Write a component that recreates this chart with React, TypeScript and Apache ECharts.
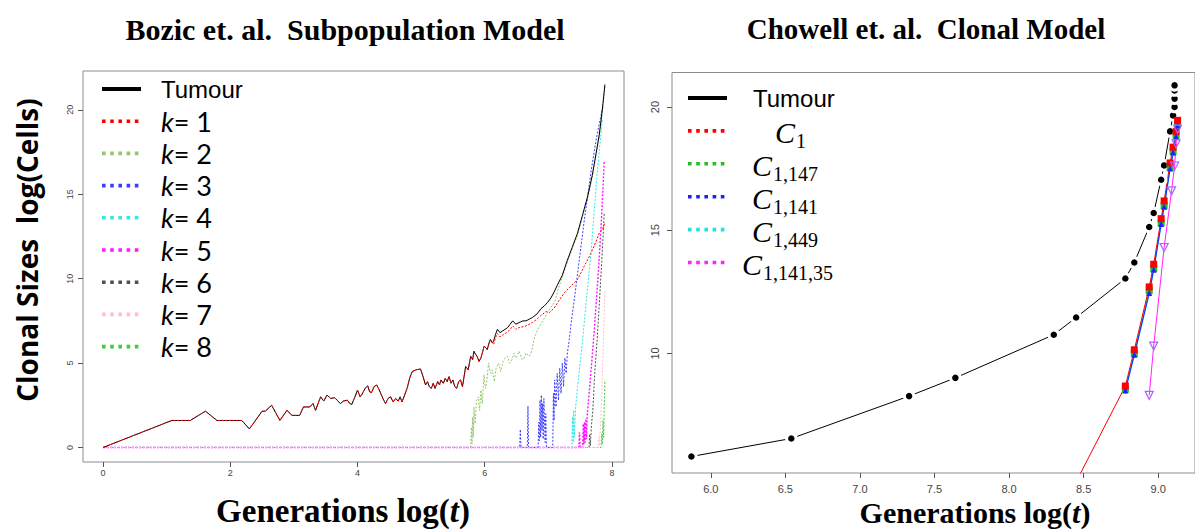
import { useEffect, useRef } from "react";
import * as echarts from "echarts";

// ---------- text ----------
const leftTitle = "Bozic et. al.  Subpopulation Model";
const rightTitle = "Chowell et. al.  Clonal Model";
const leftYName = "Clonal Sizes  log(Cells)";

// ---------- tick values ----------
const leftXTicks = [0, 2, 4, 6, 8];
const leftYTicks = [0, 5, 10, 15, 20];
const rightXTicks = [6.0, 6.5, 7.0, 7.5, 8.0, 8.5, 9.0];
const rightYTicks = [10, 15, 20];

// ---------- left panel: subpopulation model (log t, log cells) ----------
// common trajectory of the tumour and clone k=1 before they separate
const bozicEarly: [number, number][] = [
  [0, 0], [1.08, 1.6], [1.37, 1.6], [1.61, 2.15], [1.79, 1.6], [2.18, 1.6], [2.3, 1.1], [2.5, 2.15],
  [2.55, 2.15], [2.65, 2.5], [2.78, 1.6], [2.89, 2.2], [2.97, 1.9], [3.09, 1.9], [3.15, 2.4], [3.25, 2.4],
  [3.3, 2.6], [3.34, 2.2], [3.42, 3.0], [3.47, 2.75], [3.52, 3.1], [3.58, 2.9], [3.64, 2.95], [3.68, 2.8],
  [3.73, 2.6], [3.78, 2.75], [3.84, 2.8], [3.88, 2.6], [3.91, 2.55], [3.96, 3.0], [4.0, 3.4], [4.04, 3.0],
  [4.07, 3.15], [4.12, 3.5], [4.16, 3.65], [4.19, 3.3], [4.22, 3.25], [4.26, 3.6], [4.3, 3.7], [4.33, 3.5],
  [4.36, 3.25], [4.4, 2.9], [4.44, 2.6], [4.48, 2.9], [4.52, 3.0], [4.56, 2.7], [4.6, 2.9], [4.64, 2.75],
  [4.67, 3.0], [4.7, 2.7], [4.74, 3.1], [4.78, 3.5], [4.82, 4.1], [4.86, 4.5], [4.92, 4.6], [4.99, 4.65],
  [5.03, 4.2], [5.07, 3.7], [5.1, 3.9], [5.13, 3.6], [5.16, 3.5], [5.19, 3.8], [5.22, 3.5], [5.26, 3.9],
  [5.29, 3.7], [5.31, 4.0], [5.35, 3.8], [5.38, 4.1], [5.41, 3.9], [5.44, 4.2], [5.47, 3.8], [5.5, 4.0],
  [5.53, 3.6], [5.56, 3.5], [5.59, 3.9], [5.62, 4.0], [5.65, 3.6], [5.68, 4.3], [5.7, 4.8], [5.74, 4.6],
  [5.78, 5.4], [5.81, 5.2], [5.83, 5.7], [5.86, 5.5], [5.88, 5.4], [5.91, 5.1], [5.94, 5.3], [5.97, 5.7],
  [5.99, 6.0], [6.02, 5.9], [6.04, 5.8], [6.07, 6.2], [6.09, 6.4], [6.12, 6.2],
];
const tumourLate: [number, number][] = [
  [6.14, 6.3], [6.17, 6.7], [6.2, 7.0], [6.24, 6.8], [6.28, 6.9], [6.32, 7.0], [6.36, 7.1], [6.4, 7.3],
  [6.44, 7.5], [6.49, 7.3], [6.54, 7.4], [6.6, 7.5], [6.65, 7.5], [6.7, 7.6], [6.75, 7.7], [6.82, 7.9],
  [6.88, 8.2], [6.94, 8.4], [6.99, 8.6], [7.04, 8.85], [7.09, 9.2], [7.14, 9.6], [7.22, 10.2], [7.3, 11.1],
  [7.38, 11.9], [7.46, 12.7], [7.54, 13.8], [7.62, 14.9], [7.69, 16.1], [7.75, 17.4], [7.8, 18.5],
  [7.83, 19.4], [7.86, 20.4], [7.89, 21.5],
];
const k1Late: [number, number][] = [
  [6.14, 6.1], [6.17, 6.5], [6.2, 6.75], [6.24, 6.55], [6.28, 6.65], [6.32, 6.75], [6.36, 6.85], [6.4, 7.0],
  [6.44, 7.2], [6.49, 7.0], [6.54, 7.1], [6.6, 7.15], [6.65, 7.2], [6.7, 7.3], [6.75, 7.4], [6.82, 7.6],
  [6.88, 7.8], [6.96, 8.05], [7.02, 8.0], [7.09, 8.25], [7.15, 8.6], [7.25, 9.15], [7.35, 9.55],
  [7.46, 9.95], [7.56, 10.7], [7.67, 11.5], [7.75, 12.2], [7.8, 12.7], [7.86, 13.0], [7.89, 13.3],
];
const k2: [number, number][] = [
  [0, 0], [5.78, 0], [5.79, 1.2], [5.8, 0.2], [5.81, 1.8], [5.82, 0.6], [5.83, 2.4], [5.85, 1.4], [5.87, 2.8],
  [5.9, 3.0], [5.92, 2.2], [5.94, 3.4], [5.96, 2.6], [5.99, 4.3], [6.01, 3.5], [6.03, 3.8], [6.06, 5.0],
  [6.09, 4.4], [6.12, 4.6], [6.15, 3.9], [6.18, 4.7], [6.22, 5.0], [6.25, 4.5], [6.29, 5.1], [6.32, 5.3],
  [6.36, 5.4], [6.39, 5.0], [6.42, 5.1], [6.46, 5.6], [6.49, 5.3], [6.51, 5.4], [6.54, 5.7], [6.56, 5.5],
  [6.59, 5.2], [6.62, 5.3], [6.65, 5.6], [6.69, 5.4], [6.72, 5.5], [6.75, 5.9], [6.78, 6.5], [6.85, 7.1],
  [6.93, 7.6], [6.99, 8.0], [7.04, 8.3], [7.1, 8.6], [7.15, 9.3], [7.22, 10.1], [7.3, 11.0], [7.38, 11.8],
  [7.46, 12.6], [7.54, 13.7], [7.62, 14.8], [7.69, 16.0], [7.75, 17.3], [7.8, 18.4], [7.83, 19.3],
  [7.86, 20.3], [7.89, 21.4],
];
const k3: [number, number][] = [
  [0, 0], [6.55, 0], [6.56, 1.07], [6.57, 0], [6.67, 0], [6.68, 2.45], [6.69, 0], [6.84, 0], [6.85, 1.5],
  [6.86, 0.4], [6.87, 2.8], [6.88, 0.6], [6.89, 3.1], [6.9, 1.0], [6.91, 2.6], [6.92, 0.5], [6.93, 2.9],
  [6.95, 0.3], [6.96, 2.0], [6.97, 0], [7.07, 0], [7.08, 3.2], [7.09, 1.6], [7.1, 4.0], [7.12, 2.4],
  [7.14, 4.4], [7.16, 2.8], [7.18, 4.7], [7.2, 3.2], [7.22, 5.0], [7.24, 3.6], [7.26, 5.3], [7.28, 4.4],
  [7.3, 5.6], [7.33, 6.4], [7.36, 7.4], [7.41, 8.8], [7.46, 10.3], [7.51, 11.8], [7.56, 13.3], [7.62, 14.9],
  [7.67, 16.3], [7.72, 17.5], [7.77, 18.6], [7.82, 19.5], [7.86, 20.2],
];
const k4: [number, number][] = [
  [0, 0], [7.37, 0], [7.38, 1.8], [7.39, 0.3], [7.4, 2.2], [7.41, 0.6], [7.43, 2.4], [7.46, 3.6], [7.5, 5.0],
  [7.54, 6.4], [7.6, 8.8], [7.67, 11.5], [7.72, 13.9], [7.77, 16.3], [7.81, 17.9], [7.85, 19.4],
];
const k5: [number, number][] = [
  [0, 0], [7.48, 0], [7.49, 0.9], [7.5, 0], [7.54, 0], [7.55, 1.4], [7.56, 0.2], [7.57, 1.5], [7.58, 0.3],
  [7.59, 1.7], [7.6, 0.5], [7.61, 1.85], [7.66, 4.0], [7.72, 6.8], [7.78, 10.0], [7.83, 13.1], [7.88, 17.0],
];
const k6: [number, number][] = [
  [0, 0], [7.64, 0], [7.65, 0.8], [7.66, 0.1], [7.68, 1.4], [7.7, 2.2], [7.73, 4.4], [7.77, 6.5], [7.8, 8.4],
  [7.84, 11.0], [7.88, 13.9],
];
const k7: [number, number][] = [
  [0, 0], [7.78, 0], [7.79, 0.6], [7.8, 0.1], [7.82, 1.2], [7.84, 3.0], [7.86, 5.5], [7.88, 8.0], [7.89, 9.3],
];
const k8: [number, number][] = [
  [0, 0], [7.83, 0], [7.84, 0.8], [7.85, 0.2], [7.86, 1.6], [7.87, 0.6], [7.88, 2.5], [7.89, 4.0],
];

const bozicTumour = [...bozicEarly, ...tumourLate];
const bozicK1 = [...bozicEarly, ...k1Late];
const kNumbers = [1, 2, 3, 4, 5, 6, 7, 8];
const kColors = ["#ff0000", "#93c66b", "#3c3cff", "#2ee8e8", "#ff19ff", "#505050", "#ffc0cb", "#3ecc3e"];
const kData = [bozicK1, k2, k3, k4, k5, k6, k7, k8];

// ---------- right panel: clonal model (log t, log cells) ----------
const chowTumour: [number, number][] = [
  [5.87, 5.82], [6.54, 6.55], [7.33, 8.27], [7.64, 9.01], [8.3, 10.76], [8.45, 11.46], [8.78, 13.04],
  [8.84, 13.69], [8.94, 15.13], [8.97, 15.7], [9.02, 17.05], [9.04, 17.63], [9.08, 19.01], [9.1, 19.66],
  [9.11, 20.0], [9.11, 20.34], [9.11, 20.67], [9.11, 20.88],
];
const chowC1: [number, number][] = [
  [8.4, 4.2], [8.78, 8.68], [8.84, 10.15], [8.94, 12.7], [8.97, 13.62], [9.02, 15.47], [9.04, 16.19],
  [9.08, 17.73], [9.1, 18.37], [9.12, 19.0], [9.13, 19.46],
];
const chowC1147: [number, number][] = [
  [8.78, 8.55], [8.84, 10.0], [8.94, 12.55], [8.97, 13.45], [9.02, 15.3], [9.04, 16.0], [9.08, 17.55],
  [9.1, 18.2], [9.12, 18.85], [9.13, 19.3],
];
const chowC1141: [number, number][] = [
  [8.78, 8.5], [8.84, 9.95], [8.94, 12.45], [8.97, 13.4], [9.02, 15.25], [9.04, 15.95], [9.08, 17.5],
  [9.1, 18.15], [9.12, 18.8], [9.13, 19.25],
];
const chowC1449: [number, number][] = [
  [8.78, 8.45], [8.84, 9.9], [8.94, 12.4], [8.97, 13.35], [9.02, 15.2], [9.04, 15.9], [9.08, 17.45],
  [9.1, 18.1], [9.12, 18.75], [9.13, 19.2],
];
const chowC114135: [number, number][] = [
  [8.94, 8.3], [8.97, 10.3], [9.04, 14.3], [9.09, 16.6], [9.11, 17.6], [9.12, 18.5], [9.13, 19.1],
];
const cloneSubscripts = ["1", "1,147", "1,141", "1,449", "1,141,35"];
const cloneColors = ["#ff0000", "#1fbf1f", "#2020ff", "#22e0e0", "#ff22ff"];

// ---------- layout ----------
const W = 1195;
const H = 529;
const SANS = "Liberation Sans, Arial, sans-serif";
const SERIF = "Liberation Serif, Times New Roman, serif";

function legendMark(x1: number, x2: number, y: number, color: string, solid: boolean) {
  return {
    type: "line",
    silent: true,
    shape: { x1, y1: y, x2, y2: y },
    style: solid
      ? { stroke: color, lineWidth: 4 }
      : { stroke: color, lineWidth: 3.6, lineDash: [3.6, 4.6] },
  };
}

function generationsLabel(x: number, y: number, size: number) {
  return {
    type: "text", x, y,
    style: {
      text: "{a|Generations log(}{b|t}{a|)}",
      rich: {
        a: { fontFamily: SERIF, fontWeight: "bold", fontSize: size, fill: "#000" },
        b: { fontFamily: SERIF, fontWeight: "bold", fontStyle: "italic", fontSize: size, fill: "#000" },
      },
      textAlign: "center",
      textVerticalAlign: "middle",
    },
  };
}

function buildGraphic() {
  const g: any[] = [];
  // panel titles
  g.push({
    type: "text", x: 345, y: 29,
    style: { text: leftTitle, font: `bold 30px ${SERIF}`, fill: "#000", textAlign: "center", textVerticalAlign: "middle" },
  });
  g.push({
    type: "text", x: 926, y: 29,
    style: { text: rightTitle, font: `bold 29px ${SERIF}`, fill: "#000", textAlign: "center", textVerticalAlign: "middle" },
  });
  // axis titles
  g.push(generationsLabel(343, 511, 33));
  g.push(generationsLabel(975, 512, 30));
  g.push({
    type: "text", x: 27, y: 250, rotation: Math.PI / 2,
    style: { text: leftYName, font: `bold 28px Open Sans, ${SANS}`, fill: "#000", textAlign: "center", textVerticalAlign: "middle" },
  });

  // left legend
  const lx1 = 102, lx2 = 141, ly0 = 89, lstep = 32.2;
  g.push(legendMark(lx1, lx2, ly0, "#000", true));
  g.push({
    type: "text", x: 161, y: ly0,
    style: { text: "Tumour", font: `24px ${SANS}`, fill: "#000", textVerticalAlign: "middle" },
  });
  kNumbers.forEach((n, i) => {
    const y = ly0 + lstep * (i + 1);
    g.push(legendMark(lx1, lx2, y, kColors[i], false));
    g.push({
      type: "text", x: 161, y,
      style: {
        text: `{k|k}{r|= ${n}}`,
        rich: {
          k: { fontFamily: "Lato, Noto Sans, sans-serif", fontStyle: "italic", fontSize: 27, fill: "#000" },
          r: { fontFamily: "Lato, Noto Sans, sans-serif", fontSize: 27, fill: "#000" },
        },
        textVerticalAlign: "middle",
      },
    });
  });

  // right legend
  const rx1 = 688, rx2 = 727, ry0 = 98, rstep = 32.9;
  g.push(legendMark(rx1, rx2, ry0, "#000", true));
  g.push({
    type: "text", x: 753, y: ry0,
    style: { text: "Tumour", font: `24px ${SANS}`, fill: "#000", textVerticalAlign: "middle" },
  });
  const cLeft = [775, 752, 752, 752, 742];
  cloneSubscripts.forEach((s, i) => {
    const y = ry0 + rstep * (i + 1);
    g.push(legendMark(rx1, rx2, y, cloneColors[i], false));
    g.push({
      type: "text", x: cLeft[i], y: y + 2,
      style: { text: "C", font: `italic 30px ${SERIF}`, fill: "#000", textVerticalAlign: "middle" },
    });
    g.push({
      type: "text", x: cLeft[i] + 21, y: y + 10,
      style: { text: s, font: `20px ${SERIF}`, fill: "#000", textVerticalAlign: "middle" },
    });
  });
  return g;
}

function valueAxis(grid: number, min: number, max: number, ticks: number[], label: any) {
  return {
    type: "value",
    gridIndex: grid,
    min,
    max,
    splitLine: { show: false },
    axisLine: { show: false, onZero: false },
    axisTick: { show: true, inside: false, length: 5, customValues: ticks, lineStyle: { color: "#555", width: 1 } },
    axisLabel: { customValues: ticks, fontFamily: SANS, color: "#444", ...label },
  };
}

function leftSeries(name: string, data: [number, number][], color: string, dotted: boolean, width = 1) {
  return {
    name,
    type: "line",
    xAxisIndex: 0,
    yAxisIndex: 0,
    data,
    symbol: "none",
    silent: true,
    lineStyle: { color, width, type: dotted ? [2, 1.6] : "solid" },
  };
}

function rightSeries(name: string, data: [number, number][], color: string, symbol: string, size: number, item: any = {}) {
  return {
    name,
    type: "line",
    xAxisIndex: 1,
    yAxisIndex: 1,
    data,
    symbol,
    symbolSize: size,
    showAllSymbol: true,
    silent: true,
    lineStyle: { color, width: 1 },
    itemStyle: { color, ...item },
  };
}

function buildOption() {
  // clones sharing the zero baseline first (pink last among them), then tumour, then k=1 on top
  const order = [1, 7, 5, 4, 3, 2, 6];
  const series: any[] = order.map((i) =>
    leftSeries(`k= ${kNumbers[i]}`, kData[i], kColors[i], true, i === 4 ? 1.4 : 1)
  );
  series.push(leftSeries("Tumour", bozicTumour, "#000", false, 1));
  series.push(leftSeries("k= 1", bozicK1, kColors[0], true, 1));

  // tumour dots with a white ring so the joining line stops short of each point
  series.push(rightSeries("Tumour", chowTumour, "#000", "circle", 9.5, { borderColor: "#fff", borderWidth: 3 }));
  series.push(rightSeries("C1,147", chowC1147, cloneColors[1], "rect", 7));
  series.push(rightSeries("C1", chowC1, cloneColors[0], "rect", 7));
  series.push(rightSeries("C1,449", chowC1449, cloneColors[3], "diamond", 5));
  series.push(rightSeries("C1,141", chowC1141, cloneColors[2], "triangle", 6));
  series.push(
    rightSeries("C1,141,35", chowC114135, cloneColors[4], "triangle", 8, {
      color: "rgba(255,255,255,0)",
      borderColor: "#b060ff",
      borderWidth: 1.2,
    })
  );
  series[series.length - 1].symbolRotate = 180;

  return {
    animation: false,
    backgroundColor: "#fff",
    grid: [
      { left: 83, top: 71, width: 541, height: 391, show: true, borderColor: "#8c8c8c", borderWidth: 1, backgroundColor: "transparent" },
      { left: 672, top: 72.5, width: 526, height: 400.5, show: true, borderColor: "#8c8c8c", borderWidth: 1, backgroundColor: "transparent" },
    ],
    xAxis: [
      valueAxis(0, -0.316, 8.19, leftXTicks, { fontSize: 9, margin: 6 }),
      valueAxis(1, 5.74, 9.247, rightXTicks, { fontSize: 11, margin: 10, formatter: (v: number) => v.toFixed(1) }),
    ],
    yAxis: [
      valueAxis(0, -0.86, 22.3, leftYTicks, { fontSize: 9, margin: 9, rotate: 90 }),
      valueAxis(1, 5.15, 21.4, rightYTicks, { fontSize: 11, margin: 12, rotate: 90 }),
    ],
    series,
    graphic: buildGraphic(),
  };
}

export default function App() {
  const ref = useRef<HTMLDivElement>(null);
  useEffect(() => {
    if (!ref.current) return;
    const chart = echarts.init(ref.current, null, { renderer: "svg" });
    chart.setOption(buildOption() as any);
    return () => chart.dispose();
  }, []);
  return (
    <div
      ref={ref}
      style={{ position: "absolute", left: 0, top: 0, width: W, height: H, background: "#fff" }}
    />
  );
}
